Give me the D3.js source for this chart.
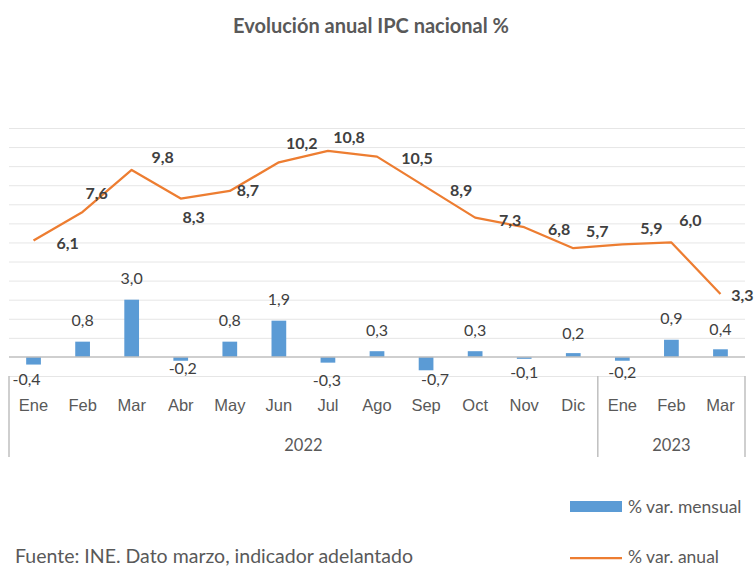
<!DOCTYPE html>
<html>
<head>
<meta charset="utf-8">
<script src="https://cdn.jsdelivr.net/npm/d3@7"></script>
<style>
  body { margin: 0; background: #fff; }
  svg { display: block; font-family: "Lato", "Liberation Sans", sans-serif; }
</style>
</head>
<body>
<div id="chart"></div>
<script>
// datos
var meses = ["Ene", "Feb", "Mar", "Abr", "May", "Jun", "Jul", "Ago", "Sep", "Oct", "Nov", "Dic", "Ene", "Feb", "Mar"];
var anios = ["2022", "2023"];
var mesesPorAnio = [12, 3];
var varMensual = [-0.4, 0.8, 3.0, -0.2, 0.8, 1.9, -0.3, 0.3, -0.7, 0.3, -0.1, 0.2, -0.2, 0.9, 0.4];
var varAnual = [6.1, 7.6, 9.8, 8.3, 8.7, 10.2, 10.8, 10.5, 8.9, 7.3, 6.8, 5.7, 5.9, 6.0, 3.3];
var gridValues = d3.range(-1, 13);

// posiciones de etiquetas (desplazamiento en px respecto al punto)
var anualLabelOff = [[34, 2], [14, -19], [31, -13], [13, 18], [18, -1], [23, -20], [21, -14], [40, 1],
                     [35, 2], [35, 2], [35, 1], [24, -18], [29, -17], [19, -23], [22, 1]];
var mensualLabelOff = [[-7, 14], [0, -22], [0, -22], [2, 7], [0, -22], [0, -22], [-1, 17], [0, -22],
                       [9, 8], [0, -22], [0, 13], [0, -21], [0, 11], [0, -22], [0, -21]];

function init() {
    var w = 755;
    var h = 568;
    var left = 9, right = 745, top = 128, bottom = 376;

    var fmt = d3.formatLocale({decimal: ",", thousands: ".", grouping: [3], currency: ["", ""], minus: "-"}).format(".1f");

    var svg = d3.select("#chart")
                .append("svg")
                .attr("width", w)
                .attr("height", h);

    var x = d3.scaleBand()
              .domain(d3.range(meses.length))
              .range([left, right]);

    var y = d3.scaleLinear()
              .domain([-1, 12])
              .range([bottom, top]);

    var bw = x.bandwidth();

    // titulo
    svg.append("text")
        .attr("x", 371)
        .attr("y", 25)
        .attr("text-anchor", "middle")
        .attr("dominant-baseline", "central")
        .attr("font-size", 20)
        .attr("font-weight", "bold")
        .attr("fill", "#595959")
        .text("Evolución anual IPC nacional %");

    // rejilla
    var grid = svg.append("g")
        .attr("transform", "translate(" + left + ",0)")
        .call(d3.axisLeft(y).tickValues(gridValues).tickSize(-(right - left)).tickFormat(""));
    grid.select(".domain").remove();
    grid.selectAll("line")
        .attr("stroke", "#e6e6e6")
        .attr("stroke-width", 1);
    grid.selectAll(".tick").filter(function(d) { return d === 0; }).remove();

    // barras
    svg.selectAll("rect.bar")
        .data(varMensual)
        .enter()
        .append("rect")
        .attr("class", "bar")
        .attr("x", function(d, i) { return x(i) + bw * 0.35; })
        .attr("width", bw * 0.3)
        .attr("y", function(d) { return y(Math.max(0, d)); })
        .attr("height", function(d) { return Math.abs(y(d) - y(0)); })
        .attr("fill", "#5b9bd5");

    // eje cero
    svg.append("line")
        .attr("x1", left).attr("x2", right)
        .attr("y1", y(0)).attr("y2", y(0))
        .attr("stroke", "#bfbfbf")
        .attr("stroke-width", 1.5);

    // linea anual
    var line = d3.line()
        .x(function(d, i) { return x(i) + bw / 2; })
        .y(function(d) { return y(d); });

    svg.append("path")
        .datum(varAnual)
        .attr("d", line)
        .attr("fill", "none")
        .attr("stroke", "#ed7d31")
        .attr("stroke-width", 2.25)
        .attr("stroke-linejoin", "round");

    // etiquetas barras
    svg.selectAll("text.mlab")
        .data(varMensual)
        .enter()
        .append("text")
        .attr("class", "mlab")
        .attr("x", function(d, i) { return x(i) + bw / 2 + mensualLabelOff[i][0]; })
        .attr("y", function(d, i) { return y(d) + mensualLabelOff[i][1]; })
        .attr("text-anchor", "middle")
        .attr("dominant-baseline", "central")
        .attr("font-size", 16)
        .attr("fill", "#404040")
        .text(function(d) { return fmt(d); });

    // etiquetas linea
    svg.selectAll("text.alab")
        .data(varAnual)
        .enter()
        .append("text")
        .attr("class", "alab")
        .attr("x", function(d, i) { return x(i) + bw / 2 + anualLabelOff[i][0]; })
        .attr("y", function(d, i) { return y(d) + anualLabelOff[i][1]; })
        .attr("text-anchor", "middle")
        .attr("dominant-baseline", "central")
        .attr("font-size", 16)
        .attr("font-weight", "bold")
        .attr("fill", "#404040")
        .text(function(d) { return fmt(d); });

    // eje categorias
    var xAxis = svg.append("g")
        .attr("transform", "translate(0," + bottom + ")")
        .call(d3.axisBottom(x).tickSize(0).tickFormat(function(i) { return meses[i]; }));
    xAxis.select(".domain").remove();
    xAxis.selectAll("text")
        .attr("y", 29)
        .attr("dy", null)
        .attr("dominant-baseline", "central")
        .attr("font-family", null)
        .attr("font-size", 16.5)
        .attr("fill", "#595959");

    // grupos de anio
    var start = 0;
    var bounds = [left];
    anios.forEach(function(a, k) {
        var end = start + mesesPorAnio[k];
        var x0 = x(start), x1 = x(end - 1) + bw;
        bounds.push(x1);
        svg.append("text")
            .attr("x", (x0 + x1) / 2)
            .attr("y", 445)
            .attr("text-anchor", "middle")
            .attr("dominant-baseline", "central")
            .attr("font-size", 16.5)
            .attr("fill", "#595959")
            .text(a);
        start = end;
    });
    svg.selectAll("line.sep")
        .data(bounds)
        .enter()
        .append("line")
        .attr("class", "sep")
        .attr("x1", function(d) { return d; })
        .attr("x2", function(d) { return d; })
        .attr("y1", bottom)
        .attr("y2", 457)
        .attr("stroke", "#bfbfbf")
        .attr("stroke-width", 1.5);

    // leyenda
    svg.append("rect")
        .attr("x", 570).attr("y", 501)
        .attr("width", 52).attr("height", 11)
        .attr("fill", "#5b9bd5");
    svg.append("text")
        .attr("x", 628).attr("y", 513)
        .attr("font-size", 17.5)
        .attr("fill", "#595959")
        .text("% var. mensual");
    svg.append("line")
        .attr("x1", 570).attr("x2", 622)
        .attr("y1", 558).attr("y2", 558)
        .attr("stroke", "#ed7d31")
        .attr("stroke-width", 2.25);
    svg.append("text")
        .attr("x", 628).attr("y", 563)
        .attr("font-size", 17.5)
        .attr("fill", "#595959")
        .text("% var. anual");

    // fuente
    svg.append("text")
        .attr("x", 15).attr("y", 563)
        .attr("font-size", 19.5)
        .attr("fill", "#595959")
        .text("Fuente: INE. Dato marzo, indicador adelantado");
}

window.onload = init;
</script>
</body>
</html>
